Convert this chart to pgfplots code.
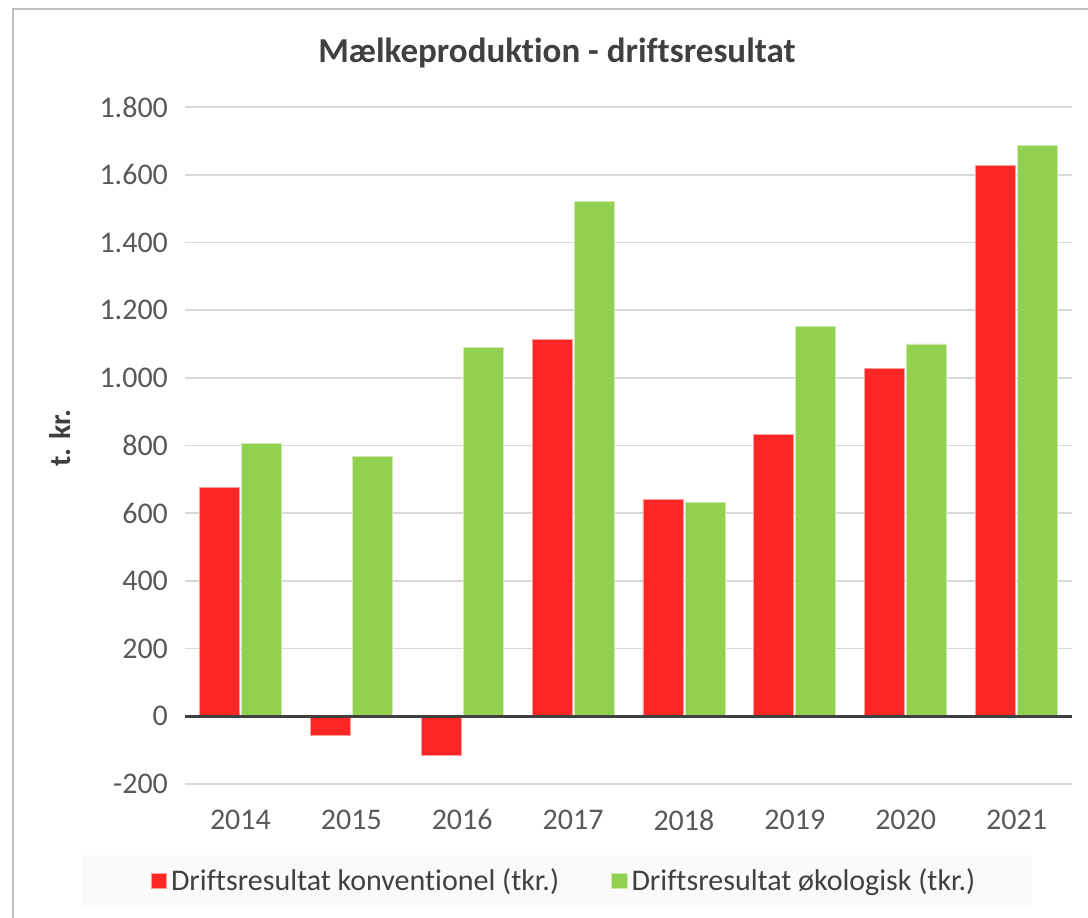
\documentclass[border=0pt]{standalone}
\usepackage{fontspec}
\setmainfont{Carlito}[Ligatures=NoCommon]
\usepackage{pgfplots}
\pgfplotsset{compat=1.18}

\definecolor{konv}{HTML}{FF2626}
\definecolor{oko}{HTML}{92D050}
\definecolor{gridc}{HTML}{D9D9D9}
\definecolor{txt}{HTML}{595959}
\definecolor{ttl}{HTML}{404040}

% 1 px of the reference = 0.5pt; axis area lower left = origin
\begin{document}
\begin{tikzpicture}[x=1pt,y=1pt]
\useasboundingbox (-92.5,-66.5) rectangle (451.5,392);
% chart frame
\draw[line width=1.2pt, black!25] (-86,-80) -- (-86,387.5) -- (470,387.5);
% legend background
\fill[black!2] (-51.5,-61.5) rectangle (423.5,-35.5);
\begin{axis}[
    at={(0,0)}, anchor=south west,
    scale only axis,
    width=443.5pt, height=338.5pt,
    ybar=1pt, bar width=20pt,
    xmin=-0.5, xmax=7.5,
    ymin=-200, ymax=1800,
    ytick={-200,0,...,1800},
    xtick={0,...,7},
    xticklabels={2014,2015,2016,2017,2018,2019,2020,2021},
    axis line style={draw=none},
    tick style={draw=none},
    ymajorgrids,
    grid style={gridc, line width=0.85pt},
    /pgf/number format/.cd, use period=false, 1000 sep={.}, assume math mode=true,
    /pgfplots/.cd,
    ticklabel style={font=\fontsize{15}{17}\selectfont, text=txt},
    yticklabel style={xshift=-5pt},
    xticklabel style={yshift=-5pt},
    legend style={at={(190pt,-48.5pt)}, anchor=center, draw=none, fill=none,
        legend columns=2, font=\fontsize{15}{17}\selectfont, text=ttl,
        /tikz/every even column/.append style={column sep=24pt}},
    legend image code/.code={\fill[#1] (-2.5pt,-3.9pt) rectangle (5.3pt,3.9pt);},
    clip=false,
]
\addplot[fill=konv, draw=konv!45!white, line width=0.4pt]
coordinates {(0,675) (1,-55) (2,-116) (3,1113) (4,641) (5,832) (6,1027) (7,1627)};
\addplot[fill=oko, draw=oko!45!white, line width=0.4pt]
coordinates {(0,806) (1,768) (2,1090) (3,1521) (4,631) (5,1152) (6,1100) (7,1686)};
\legend{Driftsresultat konventionel (tkr.), Driftsresultat økologisk (tkr.)}
\draw[ttl, line width=1.5pt] (axis cs:-0.5,0) -- (axis cs:7.5,0);
\end{axis}
\node[text=ttl, font=\fontsize{17.5}{20}\selectfont\bfseries] at (186,365.5) {Mælkeproduktion - driftsresultat};
\node[text=ttl, font=\fontsize{15}{17}\selectfont\bfseries, rotate=90] at (-62.5,173) {t. kr.};
\end{tikzpicture}
\end{document}
